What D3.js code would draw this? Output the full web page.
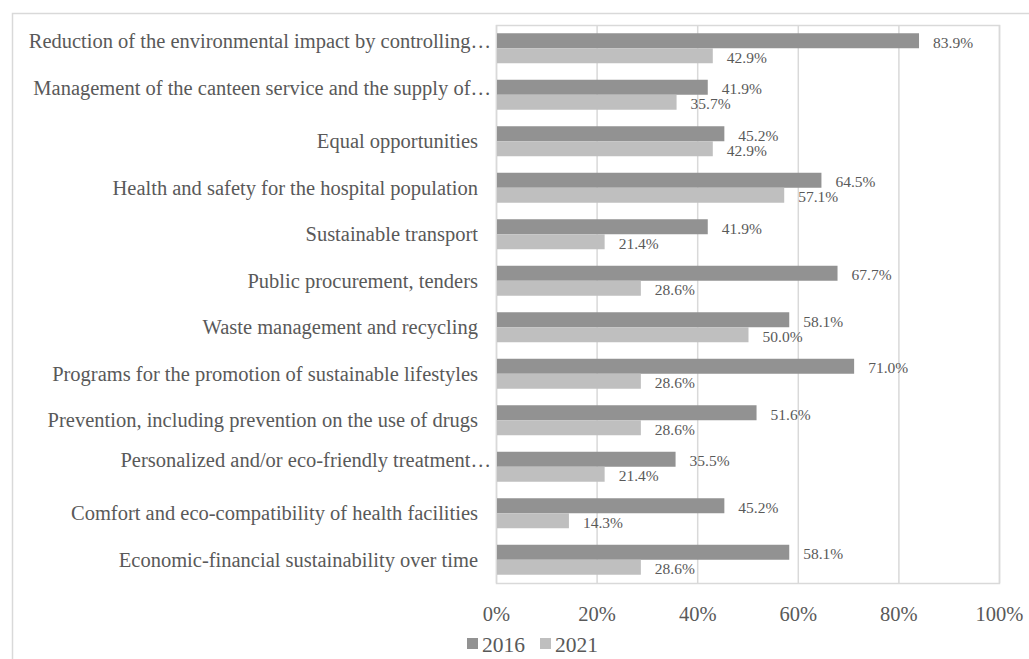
<!DOCTYPE html>
<html>
<head>
<meta charset="utf-8">
<script src="https://cdn.jsdelivr.net/npm/d3@7"></script>
<style>
  body { margin: 0; background: #fff; overflow: hidden; }
  svg { display: block; font-family: "Liberation Serif", "DejaVu Serif", serif; }
</style>
</head>
<body>
<div id="chart"></div>
<script>
const categories = [
    'Reduction of the environmental impact by controlling…',
    'Management of the canteen service and the supply of…',
    'Equal opportunities',
    'Health and safety for the hospital population',
    'Sustainable transport',
    'Public procurement, tenders',
    'Waste management and recycling',
    'Programs for the promotion of sustainable lifestyles',
    'Prevention, including prevention on the use of drugs',
    'Personalized and/or eco-friendly treatment…',
    'Comfort and eco-compatibility of health facilities',
    'Economic-financial sustainability over time'
];
const seriesNames = ['2016', '2021'];
const values2016 = [83.9, 41.9, 45.2, 64.5, 41.9, 67.7, 58.1, 71.0, 51.6, 35.5, 45.2, 58.1];
const values2021 = [42.9, 35.7, 42.9, 57.1, 21.4, 28.6, 50.0, 28.6, 28.6, 21.4, 14.3, 28.6];
const xTicks = [0, 20, 40, 60, 80, 100];

const colors = { '2016': '#929292', '2021': '#bfbfbf' };
const textColor = '#595959';
const lineColor = '#d9d9d9';

const width = 1029, height = 659;
const margin = { top: 25, right: 30, bottom: 76, left: 496 };
const innerWidth = width - margin.left - margin.right;
const innerHeight = height - margin.top - margin.bottom;

const data = categories.map((c, i) => ({
    category: c,
    values: [
        { series: '2016', value: values2016[i] },
        { series: '2021', value: values2021[i] }
    ]
}));

const svg = d3.select('#chart')
    .append('svg')
    .attr('width', width)
    .attr('height', height);

// outer chart frame: only top and left edges are inside the picture
svg.append('path')
    .attr('d', `M12.5,${height} V13.5 H${width}`)
    .attr('fill', 'none')
    .attr('stroke', lineColor)
    .attr('stroke-width', 1.5);

const g = svg.append('g')
    .attr('transform', `translate(${margin.left},${margin.top})`);

const x = d3.scaleLinear().domain([0, 100]).range([0, innerWidth]);
const y = d3.scaleBand()
    .domain(categories)
    .range([0, innerHeight])
    .paddingInner(0.355)
    .paddingOuter(0.1775);
const ySub = d3.scaleBand()
    .domain(seriesNames)
    .range([0, y.bandwidth()]);

// grid lines
g.selectAll('.grid')
    .data(xTicks)
    .enter()
    .append('line')
    .attr('class', 'grid')
    .attr('x1', d => x(d) + 0.5).attr('x2', d => x(d) + 0.5)
    .attr('y1', 0).attr('y2', innerHeight)
    .attr('stroke', lineColor)
    .attr('stroke-width', 1.5);

// plot border
g.append('rect')
    .attr('x', 0.5).attr('y', 0.5)
    .attr('width', innerWidth).attr('height', innerHeight)
    .attr('fill', 'none')
    .attr('stroke', lineColor)
    .attr('stroke-width', 1.5);

// bars
const groups = g.selectAll('.group')
    .data(data)
    .enter()
    .append('g')
    .attr('class', 'group')
    .attr('transform', d => `translate(0,${y(d.category)})`);

groups.selectAll('rect')
    .data(d => d.values)
    .enter()
    .append('rect')
    .attr('x', 1)
    .attr('y', d => ySub(d.series))
    .attr('width', d => x(d.value))
    .attr('height', ySub.bandwidth())
    .attr('fill', d => colors[d.series]);

groups.selectAll('.value-label')
    .data(d => d.values)
    .enter()
    .append('text')
    .attr('class', 'value-label')
    .attr('x', d => x(d.value) + 15)
    .attr('y', d => ySub(d.series) + ySub.bandwidth() / 2 + 1.5)
    .attr('dy', '0.35em')
    .attr('font-size', 15.5)
    .attr('fill', textColor)
    .text(d => d.value.toFixed(1) + '%');

// category labels (truncated ones sit a bit higher and further right, like the source)
g.selectAll('.cat-label')
    .data(categories)
    .enter()
    .append('text')
    .attr('class', 'cat-label')
    .attr('x', d => d.endsWith('…') ? -5 : -18)
    .attr('y', d => y(d) + y.bandwidth() / 2 - (d.endsWith('…') ? 7 : 0))
    .attr('dy', '0.35em')
    .attr('text-anchor', 'end')
    .attr('font-size', 20.5)
    .attr('fill', textColor)
    .text(d => d);

// x axis
const xAxis = d3.axisBottom(x)
    .tickValues(xTicks)
    .tickFormat(d => d + '%')
    .tickSize(0)
    .tickPadding(0);

const xAxisG = g.append('g')
    .attr('transform', `translate(0,${innerHeight})`)
    .call(xAxis);
xAxisG.select('.domain').remove();
xAxisG.selectAll('text')
    .attr('y', 38)
    .attr('dy', 0)
    .attr('font-family', 'Liberation Serif')
    .attr('font-size', 20.5)
    .attr('fill', textColor);

// legend
const legend = svg.append('g')
    .attr('transform', 'translate(467,652)');
const legendX = { '2016': 0, '2021': 73 };
seriesNames.forEach(s => {
    legend.append('rect')
        .attr('x', legendX[s]).attr('y', -14)
        .attr('width', 11).attr('height', 11)
        .attr('fill', colors[s]);
    legend.append('text')
        .attr('x', legendX[s] + 15)
        .attr('y', 0)
        .attr('font-size', 21.5)
        .attr('fill', textColor)
        .text(s);
});
</script>
</body>
</html>
